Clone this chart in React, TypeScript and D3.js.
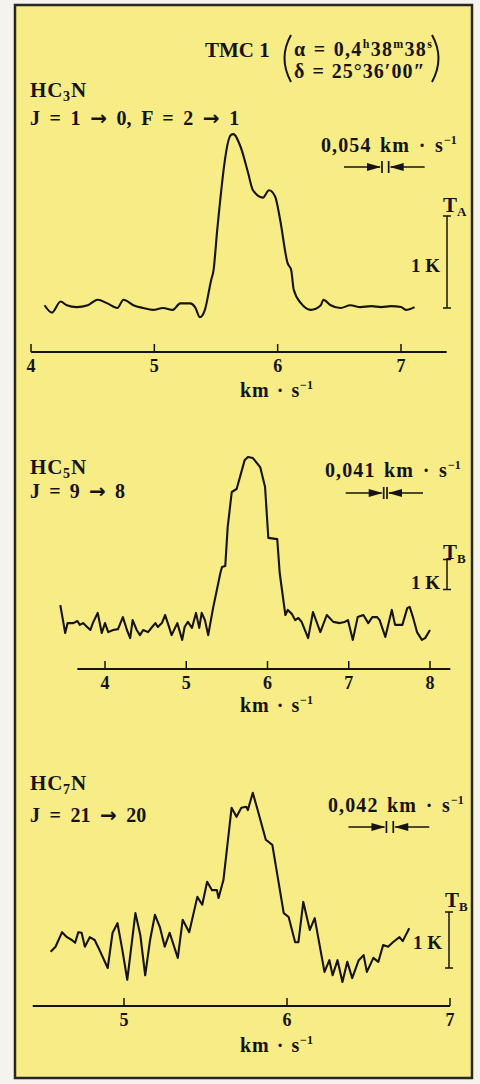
import React from 'react';
import * as d3 from 'd3';

// ---------- DATA (velocity in km/s, brightness temperature in K) ----------
// HC3N  J = 1 -> 0, F = 2 -> 1
const hc3nVelocity = [4.11,4.17,4.24,4.29,4.37,4.46,4.54,4.62,4.70,4.75,4.83,4.91,4.99,5.07,5.15,5.21,5.29,5.33,5.37,5.41,5.46,5.48,5.51,5.62,5.64,5.70,5.76,5.80,5.88,5.93,5.98,6.02,6.08,6.11,6.13,6.19,6.27,6.35,6.37,6.43,6.51,6.59,6.67,6.76,6.84,6.92,7.00,7.04,7.11];
const hc3nTemp = [.03,-.05,.07,.03,.01,.03,.09,.05,0,.09,.03,0,-.02,0,-.02,.05,.05,.01,-.10,-.02,.30,.41,.85,1.88,1.89,1.75,1.47,1.28,1.20,1.28,1.21,.96,.49,.41,.20,.05,-.02,.03,.09,.03,0,.03,.01,.02,.01,.02,.01,-.02,.01];
const hc3nTicks = [4, 5, 6, 7];

// HC5N  J = 9 -> 8
const hc5nVelocity = [3.45,3.51,3.54,3.61,3.66,3.69,3.73,3.78,3.82,3.85,3.91,3.96,4.00,4.04,4.10,4.16,4.22,4.27,4.31,4.34,4.39,4.43,4.47,4.53,4.58,4.62,4.65,4.70,4.74,4.78,4.82,4.89,4.95,4.98,5.02,5.07,5.12,5.16,5.19,5.23,5.27,5.33,5.42,5.44,5.48,5.51,5.56,5.62,5.72,5.76,5.82,5.91,5.97,6.01,6.12,6.15,6.22,6.25,6.30,6.34,6.38,6.42,6.50,6.56,6.65,6.73,6.81,6.89,6.95,6.99,7.05,7.11,7.18,7.24,7.29,7.35,7.38,7.45,7.53,7.57,7.66,7.72,7.75,7.79,7.84,7.90,7.94,8.00];
const hc5nTemp = [.73,-.20,.13,.13,.20,.07,.13,0,-.10,.13,.47,-.20,.13,-.17,-.10,-.07,.33,-.10,-.37,.23,-.10,-.27,-.10,-.17,0,.13,0,.13,.40,.07,-.27,.13,-.43,0,.17,-.03,.47,-.03,.47,.23,-.27,.63,1.80,2.00,2.03,3.33,4.50,4.60,5.57,5.67,5.63,5.33,4.67,2.97,2.93,1.80,.40,.57,.43,.23,.30,.17,-.37,.50,-.17,.40,.17,.13,.17,.23,-.43,.33,.40,.13,.33,.33,.23,-.33,.57,.07,.07,.63,.67,.33,-.17,-.43,-.37,-.10];
const hc5nTicks = [4, 5, 6, 7, 8];

// HC7N  J = 21 -> 20
const hc7nVelocity = [4.55,4.58,4.62,4.65,4.68,4.70,4.72,4.74,4.76,4.79,4.82,4.85,4.90,4.93,4.96,4.99,5.02,5.07,5.10,5.13,5.16,5.19,5.22,5.25,5.28,5.33,5.36,5.40,5.45,5.48,5.51,5.54,5.57,5.58,5.61,5.66,5.69,5.72,5.75,5.76,5.79,5.82,5.87,5.91,5.98,6.01,6.05,6.07,6.10,6.14,6.17,6.23,6.26,6.28,6.31,6.34,6.37,6.40,6.44,6.47,6.49,6.53,6.56,6.59,6.62,6.65,6.69,6.71,6.75];
const hc7nTemp = [.29,.38,.64,.55,.50,.45,.64,.63,.38,.55,.50,.32,0,.63,.80,.32,-.21,.98,.59,-.13,.50,.95,.73,.38,.63,.18,.86,.64,1.27,1.13,1.54,1.39,1.39,1.25,1.57,2.86,2.70,2.86,2.88,2.82,3.13,2.82,2.29,2.20,.98,.91,.46,.46,1.18,.68,.89,-.07,.14,-.13,.14,-.25,.11,-.18,.14,.23,-.07,.18,.11,.41,.38,.46,.55,.48,.71];
const hc7nTicks = [5, 6, 7];

// spectral resolutions (km/s) and labels
const resolutions = [0.054, 0.041, 0.042];
const resolutionLabels = ['0,054', '0,041', '0,042'];
const moleculeSub = ['3', '5', '7'];
const transitions = ['J = 1 → 0, F = 2 → 1', 'J = 9 → 8', 'J = 21 → 20'];
const tempLabels = ['A', 'B', 'B'];

const INK = '#161412';
const PAPER = '#f7ec85';
const FONT = '"Liberation Serif", "Times New Roman", serif';
const ARROW_FONT = '"DejaVu Sans", sans-serif';

type PanelCfg = {
  v: number[]; t: number[]; ticks: number[];
  xDomain: [number, number]; xRange: [number, number];
  yBase: number; pxPerK: number;
  axisFrom: number; axisTo: number; axisY: number;
  curve: d3.CurveFactory;
  barFrom: number; barX: number;
  resV: number; resY: number;
  idx: number;
  nameY: number; transY: number; transWs: number;
  resLabelX: number; resLabelY: number;
  tLabelY: number; kLabelY: number;
  unitY: number;
};

function withArrows(s: string) {
  const parts = s.split('→');
  const out: React.ReactNode[] = [];
  parts.forEach((p, i) => {
    if (i > 0) out.push(<tspan key={'a' + i} fontFamily={ARROW_FONT}>→</tspan>);
    out.push(p);
  });
  return out;
}

function Spectrum({ c }: { c: PanelCfg }) {
  const x = d3.scaleLinear().domain(c.xDomain).range(c.xRange);
  const y = d3.scaleLinear().domain([0, 1]).range([c.yBase, c.yBase - c.pxPerK]);
  const pts = c.v.map((v, i) => [v, c.t[i]] as [number, number]);
  const line = d3.line<[number, number]>().x(d => x(d[0])).y(d => y(d[1])).curve(c.curve);
  const res = resolutions[c.idx];
  const r0 = x(c.resV), r1 = x(c.resV + res);
  const ax0 = x(c.axisFrom), ax1 = x(c.axisTo);
  const by0 = y(c.barFrom), by1 = y(c.barFrom + 1);
  const txt = { fontWeight: 'bold' as const, fontFamily: FONT, fill: INK };
  return (
    <g>
      {/* molecule name */}
      <text x={30} y={c.nameY} fontSize={21} letterSpacing={0.8} {...txt}>
        HC<tspan dy={4} fontSize={14}>{moleculeSub[c.idx]}</tspan><tspan dy={-4}>N</tspan>
      </text>
      <text x={30} y={c.transY} fontSize={20} wordSpacing={c.transWs} {...txt}>{withArrows(transitions[c.idx])}</text>

      {/* resolution marker */}
      <text x={c.resLabelX} y={c.resLabelY} fontSize={20} letterSpacing={1.1} wordSpacing={2.5} {...txt}>
        {resolutionLabels[c.idx] + ' km · s'}<tspan dy={-8} fontSize={12} letterSpacing={0}>−1</tspan>
      </text>
      <g stroke={INK} strokeWidth={1.7}>
        <line x1={r0 - 38} x2={r0 - 2} y1={c.resY} y2={c.resY} />
        <line x1={r1 + 2} x2={r1 + 36} y1={c.resY} y2={c.resY} />
        <line x1={r0} x2={r0} y1={c.resY - 6} y2={c.resY + 6} />
        <line x1={r1} x2={r1} y1={c.resY - 6} y2={c.resY + 6} />
      </g>
      <polygon fill={INK} points={`${r0 - 1},${c.resY} ${r0 - 15},${c.resY - 4} ${r0 - 15},${c.resY + 4}`} />
      <polygon fill={INK} points={`${r1 + 1},${c.resY} ${r1 + 15},${c.resY - 4} ${r1 + 15},${c.resY + 4}`} />

      {/* temperature scale bar */}
      <text x={c.barX - 4} y={c.tLabelY} fontSize={21} {...txt}>
        T<tspan dy={4} fontSize={13}>{tempLabels[c.idx]}</tspan>
      </text>
      <text x={c.barX - 7} y={c.kLabelY} fontSize={19} textAnchor="end" {...txt}>1 K</text>
      <g stroke={INK} strokeWidth={1.5}>
        <line x1={c.barX} x2={c.barX} y1={by0} y2={by1} />
        <line x1={c.barX - 4} x2={c.barX + 4} y1={by0} y2={by0} />
        <line x1={c.barX - 4} x2={c.barX + 4} y1={by1} y2={by1} />
      </g>

      {/* spectrum */}
      <path d={line(pts) || ''} fill="none" stroke={INK} strokeWidth={2.1} strokeLinejoin="round" />

      {/* velocity axis */}
      <line x1={ax0} x2={ax1} y1={c.axisY} y2={c.axisY} stroke={INK} strokeWidth={2.2} />
      {c.ticks.map(t => (
        <g key={t}>
          <line x1={x(t)} x2={x(t)} y1={c.axisY} y2={c.axisY - 8} stroke={INK} strokeWidth={1.5} />
          <text x={x(t)} y={c.axisY + 20} fontSize={18} textAnchor="middle" {...txt}>{t}</text>
        </g>
      ))}
      <text x={240} y={c.unitY} fontSize={20} letterSpacing={0.8} wordSpacing={1.5} {...txt}>
        km · s<tspan dy={-8} fontSize={12} letterSpacing={0}>−1</tspan>
      </text>
    </g>
  );
}

const panels: PanelCfg[] = [
  {
    idx: 0, v: hc3nVelocity, t: hc3nTemp, ticks: hc3nTicks,
    xDomain: [4, 7], xRange: [31, 401], yBase: 308, pxPerK: 92,
    axisFrom: 4, axisTo: 7.37, axisY: 352, curve: d3.curveMonotoneX,
    barFrom: 0, barX: 447, resV: 6.846, resY: 167,
    nameY: 97, transY: 125, transWs: 4.6,
    resLabelX: 321, resLabelY: 152,
    tLabelY: 212, kLabelY: 272, unitY: 397,
  },
  {
    idx: 1, v: hc5nVelocity, t: hc5nTemp, ticks: hc5nTicks,
    xDomain: [4, 8], xRange: [105, 430], yBase: 627, pxPerK: 30,
    axisFrom: 3.66, axisTo: 8.25, axisY: 669, curve: d3.curveLinear,
    barFrom: 1.25, barX: 447, resV: 7.43, resY: 493,
    nameY: 474, transY: 498, transWs: 4.2,
    resLabelX: 325, resLabelY: 477,
    tLabelY: 559, kLabelY: 589, unitY: 712,
  },
  {
    idx: 2, v: hc7nVelocity, t: hc7nTemp, ticks: hc7nTicks,
    xDomain: [5, 7], xRange: [124, 450], yBase: 968, pxPerK: 56,
    axisFrom: 4.44, axisTo: 7, axisY: 1006, curve: d3.curveLinear,
    barFrom: 0, barX: 449, resV: 6.61, resY: 827,
    nameY: 790, transY: 822, transWs: 4.5,
    resLabelX: 328, resLabelY: 812,
    tLabelY: 907, kLabelY: 949, unitY: 1052,
  },
];

export default function App() {
  return (
    <svg width={480} height={1084} style={{ position: 'absolute', left: 0, top: 0, display: 'block' }}>
      <rect x={0} y={0} width={480} height={1084} fill="#f4f3ee" />
      <rect x={15} y={5} width={457} height={1073} fill={PAPER} stroke="#2a2622" strokeWidth={2.5} />

      {/* header */}
      <text x={205} y={57} fontSize={21} fontWeight="bold" fontFamily={FONT} fill={INK}>TMC 1</text>
      <path d="M291,35 Q278,58 291,82" fill="none" stroke={INK} strokeWidth={2} />
      <path d="M432,35 Q445,58 432,82" fill="none" stroke={INK} strokeWidth={2} />
      <text x={294} y={56} fontSize={20} letterSpacing={1.3} wordSpacing={1} fontWeight="bold" fontFamily={FONT} fill={INK}>
        α = 0,4<tspan dy={-8} fontSize={12}>h</tspan><tspan dy={8}>38</tspan><tspan dy={-8} fontSize={12}>m</tspan><tspan dy={8}>38</tspan><tspan dy={-8} fontSize={12}>s</tspan>
      </text>
      <text x={294} y={78} fontSize={20} letterSpacing={1} wordSpacing={1} fontWeight="bold" fontFamily={FONT} fill={INK}>δ = 25°36′00″</text>

      {panels.map(p => <Spectrum key={p.idx} c={p} />)}
    </svg>
  );
}
